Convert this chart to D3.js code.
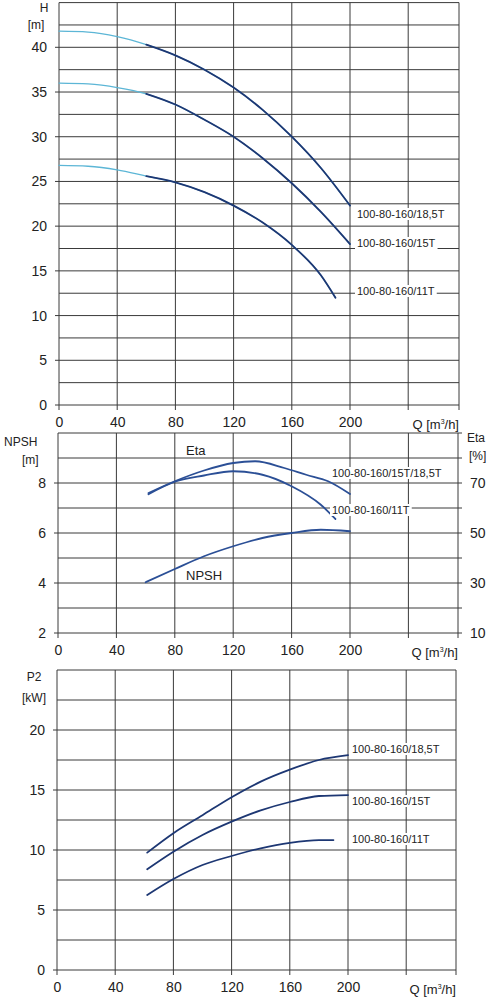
<!DOCTYPE html>
<html>
<head>
<meta charset="utf-8">
<script src="https://cdn.jsdelivr.net/npm/d3@7"></script>
<style>
  body { margin: 0; background: #fff; }
  text { font-family: "Liberation Sans", Arial, sans-serif; fill: #222; }
</style>
</head>
<body>
<svg id="chart" width="498" height="1000"></svg>
<script>
const qTicks = [0, 40, 80, 120, 160, 200];

// H curves (Q, H)
const hQ = [0, 20, 40, 60, 80, 100, 120, 140, 160, 180, 200];
const h185 = [41.8, 41.7, 41.2, 40.3, 39.1, 37.5, 35.5, 33.0, 30.0, 26.5, 22.3];
const h15 = [36.0, 35.9, 35.5, 34.8, 33.6, 31.9, 30.0, 27.6, 24.8, 21.6, 18.0];
const hQ11 = [0, 20, 40, 60, 80, 100, 120, 140, 160, 180, 190];
const h11 = [26.8, 26.7, 26.3, 25.6, 24.9, 23.8, 22.3, 20.4, 17.9, 14.5, 12.0];

// Eta curves in % (Q, Eta)
const etaQ = [62, 80, 100, 120, 135, 155, 170, 185, 200];
const eta185 = [66, 70.7, 75, 78, 78.7, 76, 73.3, 70.7, 65.6];
const etaQ11 = [62, 80, 100, 120, 140, 160, 180, 190];
const eta11 = [65.5, 70.5, 73, 74.7, 73.3, 68.7, 61.3, 55.6];
// NPSH (Q, m)
const npshQ = [60, 80, 100, 120, 140, 160, 180, 200];
const npsh = [4.03, 4.56, 5.07, 5.47, 5.8, 6.0, 6.13, 6.07];

// P2 (Q, kW)
const pQ = [62, 80, 100, 120, 140, 160, 180, 200];
const p185 = [9.78, 11.4, 12.9, 14.4, 15.7, 16.7, 17.5, 17.9];
const p15 = [8.4, 9.86, 11.25, 12.36, 13.3, 14.0, 14.5, 14.58];
const pQ11 = [62, 80, 100, 120, 140, 160, 180, 190];
const p11 = [6.25, 7.58, 8.75, 9.5, 10.14, 10.6, 10.83, 10.83];

const dark = '#1d3773', light = '#5cb6d6', mid = '#2b4f96', grid = '#3a3a3a';
const svg = d3.select('#chart');

function panel(o) {
  const x = d3.scaleLinear().domain([0, 200]).range([o.x0, o.x200]);
  const y = d3.scaleLinear().domain(o.yDomain).range([o.yBottom, o.yTop]);
  const g = svg.append('g');
  const xRight = o.xRight;
  // horizontal grid
  d3.range(o.yDomain[0], o.yDomain[1] + 0.001, o.gridStep).forEach(v => {
    g.append('line').attr('x1', o.x0 - (o.yTicks.includes(v) ? 4 : 0)).attr('x2', xRight + (o.rightTicks ? 4 : 0))
      .attr('y1', y(v)).attr('y2', y(v)).attr('stroke', grid).attr('stroke-width', 1);
  });
  // vertical grid
  [0, 40, 80, 120, 160, 200, 240].forEach(v => {
    g.append('line').attr('x1', x(v)).attr('x2', x(v)).attr('y1', o.yTop).attr('y2', o.yBottom + 5)
      .attr('stroke', grid).attr('stroke-width', 1);
  });
  g.append('line').attr('x1', xRight).attr('x2', xRight).attr('y1', o.yTop).attr('y2', o.yBottom + 5)
    .attr('stroke', grid);
  const yAxis = d3.axisLeft(y).tickValues(o.yTicks).tickSize(0).tickPadding(12);
  g.append('g').attr('transform', `translate(${o.x0},0)`).call(yAxis)
    .call(a => a.select('.domain').remove())
    .selectAll('text').style('font-size', '14px').style('font-family', 'Liberation Sans, Arial').style('fill', '#222');
  const xAxis = d3.axisBottom(x).tickValues(qTicks).tickSize(0).tickPadding(12);
  g.append('g').attr('transform', `translate(0,${o.yBottom})`).call(xAxis)
    .call(a => a.select('.domain').remove())
    .selectAll('text').style('font-size', '14px').style('font-family', 'Liberation Sans, Arial').style('fill', '#222');
  const qLab = g.append('text').attr('x', xRight).attr('y', o.yBottom + 24).attr('text-anchor', 'end')
    .style('font-size', '13px');
  qLab.append('tspan').text('Q [m');
  qLab.append('tspan').text('3').attr('dy', -5).style('font-size', '7px');
  qLab.append('tspan').text('/h]').attr('dy', 5);
  return { g, x, y };
}

function curve(p, qs, vs, color, width) {
  const line = d3.line().x((d, i) => p.x(qs[i])).y(d => p.y(d)).curve(d3.curveMonotoneX);
  p.g.append('path').attr('d', line(vs)).attr('fill', 'none').attr('stroke', color)
    .attr('stroke-width', width || 1.8).attr('stroke-linecap', 'round');
}

function label(p, txt, x, y, pad) {
  pad = pad || 1;
  const t = p.g.append('text').attr('x', x).attr('y', y).style('font-size', '11px').text(txt);
  const b = t.node().getBBox();
  p.g.insert('rect', () => t.node()).attr('x', b.x - pad).attr('y', b.y).attr('width', b.width + 2 * pad)
    .attr('height', b.height).attr('fill', '#fff');
}

// ---- H panel
const pH = panel({ x0: 59, x200: 350, xRight: 459, yDomain: [0, 45], yTop: 2.6, yBottom: 405,
  gridStep: 2.5, yTicks: [0, 5, 10, 15, 20, 25, 30, 35, 40] });
[[hQ, h185], [hQ, h15], [hQ11, h11]].forEach(([q, v]) => {
  curve(pH, q, v, light, 1.3);
  const i = q.indexOf(60);
  curve(pH, q.slice(i), v.slice(i), dark, 1.8);
});
pH.g.append('text').attr('x', 44).attr('y', 12).attr('text-anchor', 'middle').style('font-size', '12px').text('H');
pH.g.append('text').attr('x', 36).attr('y', 29).attr('text-anchor', 'middle').style('font-size', '12px').text('[m]');
label(pH, '100-80-160/18,5T', 357, 218);
label(pH, '100-80-160/15T', 357, 247, 2);
label(pH, '100-80-160/11T', 357, 295, 2);

// ---- NPSH / Eta panel
const pN = panel({ x0: 58, x200: 350, xRight: 458, yDomain: [2, 10], yTop: 433, yBottom: 633,
  gridStep: 1, yTicks: [2, 4, 6, 8], rightTicks: true });
const etaToN = e => (e + 10) / 10;
const eAxis = d3.axisRight(d3.scaleLinear().domain([10, 90]).range([633, 433])).tickValues([10, 30, 50, 70])
  .tickSize(0).tickPadding(12);
pN.g.append('g').attr('transform', 'translate(458,0)').call(eAxis)
  .call(a => a.select('.domain').remove()).selectAll('text').style('font-size', '14px').style('fill', '#222');
curve(pN, etaQ, eta185.map(etaToN), mid, 1.8);
curve(pN, etaQ11, eta11.map(etaToN), mid, 1.8);
curve(pN, npshQ, npsh, mid, 1.8);
pN.g.append('text').attr('x', 4).attr('y', 446).style('font-size', '12px').text('NPSH');
pN.g.append('text').attr('x', 22).attr('y', 464).style('font-size', '12px').text('[m]');
pN.g.append('text').attr('x', 467).attr('y', 442).style('font-size', '12px').text('Eta');
pN.g.append('text').attr('x', 469).attr('y', 460).style('font-size', '12px').text('[%]');
pN.g.append('text').attr('x', 186).attr('y', 455).style('font-size', '13px').text('Eta');
pN.g.append('text').attr('x', 186).attr('y', 580).style('font-size', '13px').text('NPSH');
label(pN, '100-80-160/15T/18,5T', 332, 477, 2);
label(pN, '100-80-160/11T', 332, 514, 2);

// ---- P2 panel
const pP = panel({ x0: 57, x200: 348, xRight: 456, yDomain: [0, 25], yTop: 670, yBottom: 970,
  gridStep: 2.5, yTicks: [0, 5, 10, 15, 20] });
curve(pP, pQ, p185, dark, 1.8);
curve(pP, pQ, p15, dark, 1.8);
curve(pP, pQ11, p11, dark, 1.8);
pP.g.append('text').attr('x', 34).attr('y', 681).attr('text-anchor', 'middle').style('font-size', '12px').text('P2');
pP.g.append('text').attr('x', 34).attr('y', 702).attr('text-anchor', 'middle').style('font-size', '12px').text('[kW]');
label(pP, '100-80-160/18,5T', 352, 753, 2);
label(pP, '100-80-160/15T', 352, 805, 2);
label(pP, '100-80-160/11T', 352, 843, 2);
</script>
</body>
</html>
